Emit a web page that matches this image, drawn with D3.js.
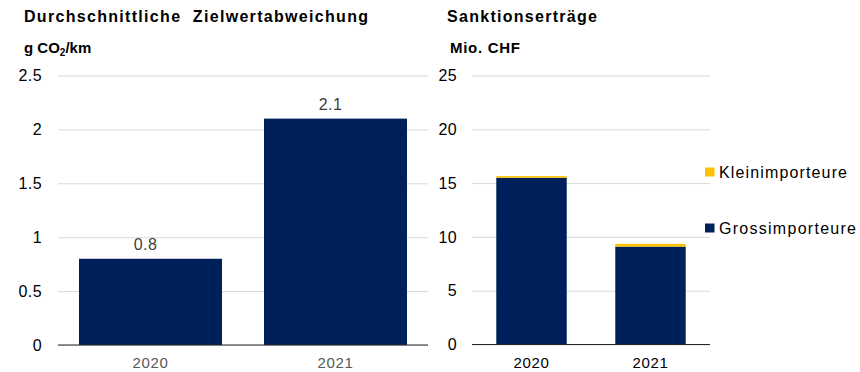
<!DOCTYPE html>
<html>
<head>
<meta charset="utf-8">
<script src="https://cdn.jsdelivr.net/npm/d3@7"></script>
<style>
  html, body { margin: 0; padding: 0; background: #fff; }
  svg { display: block; font-family: "Liberation Sans", Arial, sans-serif; }
</style>
</head>
<body>
<svg id="chart" width="860" height="372"></svg>
<script>
// Durchschnittliche Zielwertabweichung (g CO2/km)
const years = ["2020", "2021"];
const deviation = [0.8, 2.1];
const deviationTicks = [0, 0.5, 1, 1.5, 2, 2.5];

// Sanktionserträge (Mio. CHF)
const grossImporters = [15.5, 9.1];
const smallImporters = [0.15, 0.25];
const revenueTicks = [0, 5, 10, 15, 20, 25];
const seriesNames = ["Grossimporteure", "Kleinimporteure"];

const NAVY = "#00205b";
const GOLD = "#ffc000";
const GRID = "#d9d9d9";

const svg = d3.select("#chart");

function fmt(v) { return String(v); }

/* ---------- left panel ---------- */
const xL = d3.scaleBand().domain(years).range([58, 428]).paddingInner(0.227).paddingOuter(0.1135);
const yL = d3.scaleLinear().domain([0, 2.5]).range([345, 75.5]);

const left = svg.append("g");

left.append("text")
  .attr("x", 24).attr("y", 22)
  .attr("font-size", 16).attr("font-weight", "bold")
  .style("white-space", "pre")
  .attr("textLength", 344).attr("lengthAdjust", "spacing")
  .attr("fill", "#000")
  .text("Durchschnittliche  Zielwertabweichung");

const unitL = left.append("text")
  .attr("x", 24).attr("y", 53)
  .attr("font-size", 15).attr("font-weight", "bold")
  .attr("fill", "#000");
unitL.append("tspan").text("g CO");
unitL.append("tspan").attr("font-size", 10).attr("dy", 3).text("2");
unitL.append("tspan").attr("dy", -3).text("/km");

// gridlines + tick labels
const axL = d3.axisLeft(yL).tickValues(deviationTicks).tickSize(-(428 - 58)).tickPadding(16).tickFormat(fmt);
const gAxL = left.append("g").attr("transform", "translate(58,0)").call(axL);
gAxL.select(".domain").remove();
gAxL.selectAll(".tick line").attr("stroke", GRID).attr("stroke-width", 1);
gAxL.selectAll(".tick text")
  .attr("font-size", 16).attr("fill", "#000").attr("letter-spacing", 0.4)
  .attr("font-family", "Liberation Sans, Arial, sans-serif");

left.selectAll("rect.bar")
  .data(years.map((y, i) => ({ year: y, value: deviation[i] })))
  .join("rect").attr("class", "bar")
  .attr("x", d => xL(d.year))
  .attr("width", xL.bandwidth())
  .attr("y", d => yL(d.value))
  .attr("height", d => yL(0) - yL(d.value))
  .attr("fill", NAVY);

left.selectAll("text.val")
  .data(years.map((y, i) => ({ year: y, value: deviation[i] })))
  .join("text").attr("class", "val")
  .attr("x", d => xL(d.year) + xL.bandwidth() / 2 - 5)
  .attr("y", d => yL(d.value) - 9)
  .attr("text-anchor", "middle")
  .attr("font-size", 16).attr("letter-spacing", 0.4)
  .attr("fill", "#404040")
  .text(d => d.value.toFixed(1));

left.append("line")
  .attr("x1", 58).attr("x2", 428)
  .attr("y1", yL(0)).attr("y2", yL(0))
  .attr("stroke", "#262626").attr("stroke-width", 1.2);

left.selectAll("text.cat")
  .data(years)
  .join("text").attr("class", "cat")
  .attr("x", d => xL(d) + xL.bandwidth() / 2)
  .attr("y", 368)
  .attr("text-anchor", "middle")
  .attr("font-size", 15).attr("letter-spacing", 0.6)
  .attr("fill", "#595959")
  .text(d => d);

/* ---------- right panel ---------- */
const xR = d3.scaleBand().domain(years).range([472, 710]).paddingInner(0.408).paddingOuter(0.204);
const yR = d3.scaleLinear().domain([0, 25]).range([344.5, 75.5]);

const right = svg.append("g");

right.append("text")
  .attr("x", 447).attr("y", 22)
  .attr("font-size", 16).attr("font-weight", "bold")
  .attr("textLength", 150).attr("lengthAdjust", "spacing")
  .attr("fill", "#000")
  .text("Sanktionserträge");

right.append("text")
  .attr("x", 450).attr("y", 53)
  .attr("font-size", 15).attr("font-weight", "bold")
  .attr("textLength", 70).attr("lengthAdjust", "spacing")
  .attr("fill", "#000")
  .text("Mio. CHF");

const axR = d3.axisLeft(yR).tickValues(revenueTicks).tickSize(-(710 - 472)).tickPadding(15).tickFormat(fmt);
const gAxR = right.append("g").attr("transform", "translate(472,0)").call(axR);
gAxR.select(".domain").remove();
gAxR.selectAll(".tick line").attr("stroke", GRID).attr("stroke-width", 1);
gAxR.selectAll(".tick text")
  .attr("font-size", 16).attr("fill", "#000").attr("letter-spacing", 0.4)
  .attr("font-family", "Liberation Sans, Arial, sans-serif");

const rows = years.map((y, i) => ({ year: y, Grossimporteure: grossImporters[i], Kleinimporteure: smallImporters[i] }));
const stacked = d3.stack().keys(seriesNames)(rows);
const colour = d3.scaleOrdinal().domain(seriesNames).range([NAVY, GOLD]);

right.selectAll("g.series")
  .data(stacked)
  .join("g").attr("class", "series")
  .attr("fill", d => colour(d.key))
  .selectAll("rect")
  .data(d => d)
  .join("rect")
  .attr("x", d => xR(d.data.year))
  .attr("width", xR.bandwidth())
  .attr("y", d => yR(d[1]))
  .attr("height", d => yR(d[0]) - yR(d[1]));

right.append("line")
  .attr("x1", 472).attr("x2", 710)
  .attr("y1", yR(0)).attr("y2", yR(0))
  .attr("stroke", "#262626").attr("stroke-width", 1.2);

right.selectAll("text.cat")
  .data(years)
  .join("text").attr("class", "cat")
  .attr("x", d => xR(d) + xR.bandwidth() / 2)
  .attr("y", 368)
  .attr("text-anchor", "middle")
  .attr("font-size", 15).attr("letter-spacing", 0.6)
  .attr("fill", "#000")
  .text(d => d);

// legend (top series first)
const legendItems = [
  { name: "Kleinimporteure", y: 172, width: 128 },
  { name: "Grossimporteure", y: 228, width: 137 }
];
const lg = right.selectAll("g.legend")
  .data(legendItems)
  .join("g").attr("class", "legend")
  .attr("transform", d => `translate(705,${d.y})`);
lg.append("rect")
  .attr("x", 0).attr("y", -4.5).attr("width", 9.5).attr("height", 9)
  .attr("fill", d => colour(d.name));
lg.append("text")
  .attr("x", 14).attr("y", 6)
  .attr("font-size", 16)
  .attr("textLength", d => d.width).attr("lengthAdjust", "spacing")
  .attr("fill", "#000")
  .text(d => d.name);
</script>
</body>
</html>
